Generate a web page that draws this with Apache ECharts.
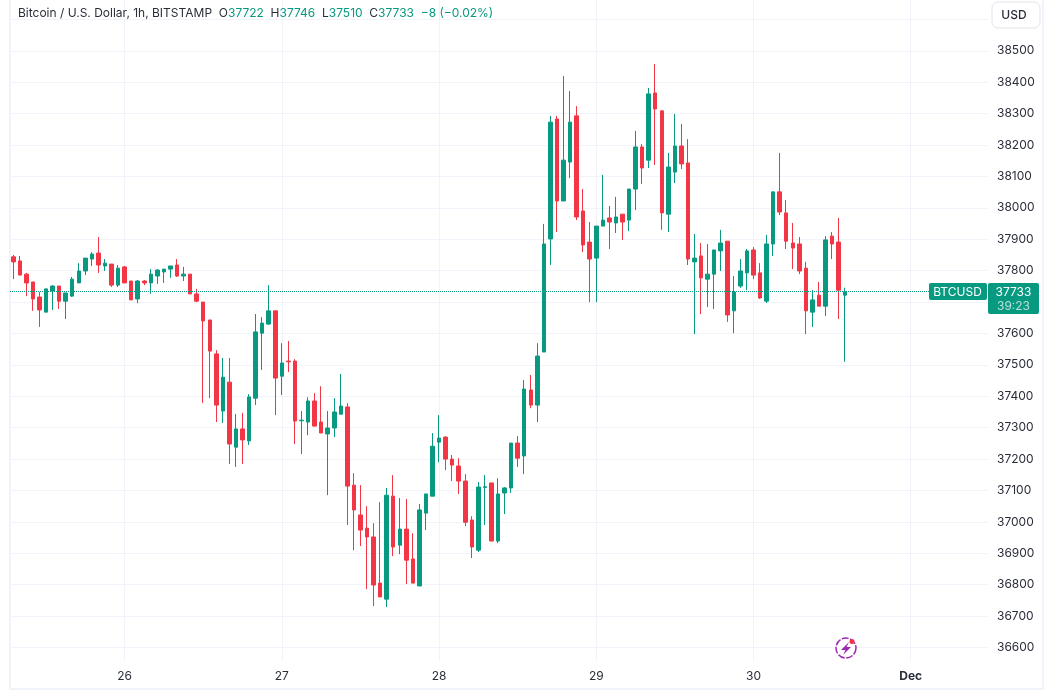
<!DOCTYPE html>
<html><head><meta charset="utf-8">
<style>html,body{margin:0;padding:0;background:#fff}#c{width:1054px;height:694px}</style>
<script src="https://cdn.jsdelivr.net/npm/echarts@6/dist/echarts.min.js"></script>
</head><body><div id="c"></div>
<script>
// open, close, low, high per hourly bar
const opens = [37844,37831,37789,37764,37716,37668,37735,37751,37703,37719,37761,37799,37837,37856,37815,37821,37754,37812,37767,37710,37767,37761,37783,37796,37805,37818,37783,37789,37726,37700,37643,37535,37353,37445,37238,37296,37258,37394,37601,37630,37672,37464,37512,37512,37322,37318,37385,37318,37280,37299,37343,37366,37117,37022,36980,36952,36805,36754,37082,36926,36977,36882,36796,37028,37082,37254,37270,37200,37178,37130,37006,36910,37110,37124,36939,37092,37108,37251,37210,37420,37372,37541,37901,38283,38022,38146,38293,37990,37891,37840,37942,37968,37952,37980,37961,38060,38194,38152,38366,38309,37980,38114,38197,38143,37828,37847,37773,37789,37863,37894,37672,37751,37793,37866,37793,37703,37885,38051,37984,37888,37885,37808,37668,37722,37687,37910,37891,37722];
const closes = [37828,37786,37761,37710,37675,37742,37751,37703,37729,37773,37799,37840,37853,37818,37824,37754,37808,37761,37707,37767,37761,37789,37802,37805,37815,37783,37789,37726,37703,37640,37544,37372,37461,37248,37296,37261,37398,37605,37633,37672,37458,37506,37510,37321,37324,37385,37305,37283,37299,37350,37369,37114,37038,36974,36952,36799,36761,37085,36920,36977,36878,36805,37038,37089,37241,37267,37200,37181,37130,36999,36920,37111,37112,36939,37089,37108,37251,37203,37423,37372,37528,37885,38273,38022,38152,38273,37971,37882,37837,37942,37961,37955,37971,37955,38060,38194,38127,38363,38315,37984,38130,38197,38140,37837,37840,37777,37789,37866,37888,37659,37732,37799,37863,37786,37713,37885,38051,37987,37894,37872,37799,37672,37707,37687,37898,37885,37738,37733];
const lows = [37773,37786,37719,37672,37621,37668,37675,37678,37646,37716,37761,37786,37815,37793,37799,37748,37748,37761,37707,37697,37754,37726,37758,37761,37777,37780,37767,37726,37700,37379,37394,37318,37315,37184,37175,37184,37245,37372,37484,37627,37340,37404,37477,37248,37216,37276,37305,37283,37085,37270,37343,36990,36910,36923,36786,36732,36761,36729,36891,36897,36802,36805,36796,36974,37082,37190,37165,37130,37089,36987,36885,36904,36990,36939,36932,37025,37092,37175,37152,37362,37318,37541,37818,37923,38022,38095,37961,37859,37700,37700,37942,37869,37920,37898,37926,37993,38076,38127,38137,37930,37923,38079,38124,37818,37598,37662,37684,37678,37799,37637,37601,37745,37738,37773,37710,37697,37847,37977,37869,37805,37789,37598,37621,37687,37656,37837,37646,37510];
const highs = [37850,37847,37793,37764,37732,37742,37754,37751,37729,37780,37824,37840,37859,37907,37837,37821,37818,37815,37767,37770,37770,37805,37805,37805,37815,37837,37812,37789,37742,37700,37643,37547,37522,37522,37344,37347,37407,37662,37652,37754,37672,37569,37576,37518,37353,37397,37410,37432,37353,37394,37471,37378,37155,37117,37050,36996,37063,37108,37149,37076,37073,36964,37057,37089,37283,37340,37273,37213,37203,37152,37018,37127,37149,37124,37139,37111,37251,37273,37452,37468,37569,37949,38293,38293,38420,38372,38324,38060,37955,37942,38105,38006,38035,37980,38060,38245,38203,38382,38458,38309,38175,38299,38267,38219,37917,37888,37885,37866,37930,37894,37783,37837,37869,37875,37824,37914,38051,38175,38025,37952,37907,37828,37738,37764,37910,37923,37968,37746];
const dayTicks = [17,41,65,89,113,137];
const dayLabels = ['26','27','28','29','30','Dec'];
const priceLabels = [36600,36700,36800,36900,37000,37100,37200,37300,37400,37500,37600,37700,37800,37900,38000,38100,38200,38300,38400,38500];
const priceGrid = priceLabels.concat([38600]);
const lastPrice = 37733;
const symbolTag = 'BTCUSD';
const countdown = '39:23';
const headerName = 'Bitcoin / U.S. Dollar, 1h, BITSTAMP';
const headerOHLC = ['37722','37746','37510','37733'];
const headerChange = '\u22128 (\u22120.02%)';

const UP='#089981', DOWN='#f23645', GRID='#f0f3fa', TEXT='#2a2e39', FONT='Inter';
const candles = opens.map((o,i)=>[i,o,closes[i],lows[i],highs[i]]);
const dark = {color:TEXT,fontFamily:FONT,fontSize:12,fontWeight:'normal'}, val={color:UP,fontFamily:FONT,fontSize:12,fontWeight:'normal'};

const chart = echarts.init(document.getElementById('c'),null,{renderer:'canvas'});
chart.setOption({
  animation:false,
  backgroundColor:'#fff',
  textStyle:{fontFamily:FONT},
  title:{left:18,top:7,padding:0,
    text:`{d|${headerName}  O}{v|${headerOHLC[0]}}{d|  H}{v|${headerOHLC[1]}}{d|  L}{v|${headerOHLC[2]}}{d|  C}{v|${headerOHLC[3]}}{v|  ${headerChange}}`,
    textStyle:{fontWeight:'normal',rich:{d:dark,v:val}}},
  grid:{left:10,right:66,top:0,bottom:33,containLabel:false,show:false},
  xAxis:{type:'value',min:-0.5,max:148.8,
    axisLine:{show:false},
    axisTick:{show:false,customValues:dayTicks},
    splitLine:{show:true,lineStyle:{color:GRID,width:1}},
    axisLabel:{customValues:dayTicks,margin:9,fontFamily:FONT,fontSize:12,color:TEXT,
      formatter:v=>{const s=dayLabels[dayTicks.indexOf(v)];return s==='Dec'?`{b|${s}}`:s;},
      rich:{b:{fontWeight:'bold',fontFamily:FONT,fontSize:12,color:TEXT}}}},
  yAxis:{type:'value',position:'right',min:36557,max:38662,scale:true,
    axisLine:{show:false},
    axisTick:{show:false,customValues:priceGrid},
    splitLine:{show:true,lineStyle:{color:GRID,width:1}},
    axisLabel:{customValues:priceLabels,margin:9,fontFamily:FONT,fontSize:12,color:TEXT,formatter:v=>String(v)}},
  series:[{type:'candlestick',barWidth:4,
    data:candles,encode:{x:0,y:[1,2,3,4]},
    itemStyle:{color:UP,color0:DOWN,borderColor:UP,borderColor0:DOWN,borderWidth:1},
    markLine:{silent:true,symbol:'none',label:{show:false},
      lineStyle:{color:UP,type:[1,1],width:1},
      data:[{yAxis:lastPrice}]}}]
});

function drawOverlay(){
  const y = Math.round(chart.convertToPixel({yAxisIndex:0},lastPrice));
  chart.setOption({graphic:[
    {type:'rect',left:9,top:0,shape:{x:0,y:0,width:2,height:690},style:{fill:GRID},z:1},
    {type:'rect',left:1042,top:0,shape:{x:0,y:0,width:2,height:690},style:{fill:GRID},z:1},
    {type:'rect',left:9,top:688,shape:{x:0,y:0,width:1035,height:2},style:{fill:GRID},z:1},
    {type:'rect',x:992,y:2,shape:{x:0,y:0,width:48,height:26,r:6},style:{fill:'#fff',stroke:'#e0e3eb',lineWidth:1},z:20},
    {type:'text',x:1014,y:15,style:{text:'USD',fill:TEXT,font:'500 12px Inter',textAlign:'center',textVerticalAlign:'middle'},z:21},
    {type:'rect',x:929,y:y-9,shape:{x:0,y:0,width:58,height:17,r:2},style:{fill:UP},z:20},
    {type:'text',x:957.5,y:y,style:{text:symbolTag,fill:'#fff',font:'12px Inter',textAlign:'center',textVerticalAlign:'middle'},z:21},
    {type:'rect',x:988,y:y-9,shape:{x:0,y:0,width:51,height:31,r:2},style:{fill:UP},z:20},
    {type:'text',x:1013.5,y:y,style:{text:String(lastPrice),fill:'#fff',font:'12px Inter',textAlign:'center',textVerticalAlign:'middle'},z:21},
    {type:'text',x:1013.5,y:y+14,style:{text:countdown,fill:'#b5e0d8',font:'12px Inter',textAlign:'center',textVerticalAlign:'middle'},z:21},
    {type:'circle',shape:{cx:846,cy:648,r:10},style:{fill:'#fff',stroke:'#9c27b0',lineWidth:1.5,lineDash:[7,1.5]},z:20},
    {type:'polygon',shape:{points:[[849,642],[841,650],[845.5,650],[843,655],[851,647],[846.5,647]]},style:{fill:'#9c27b0'},z:21},
    {type:'circle',shape:{cx:852,cy:641.5,r:2.5},style:{fill:DOWN},z:22}
  ]});
}
drawOverlay();
</script></body></html>
